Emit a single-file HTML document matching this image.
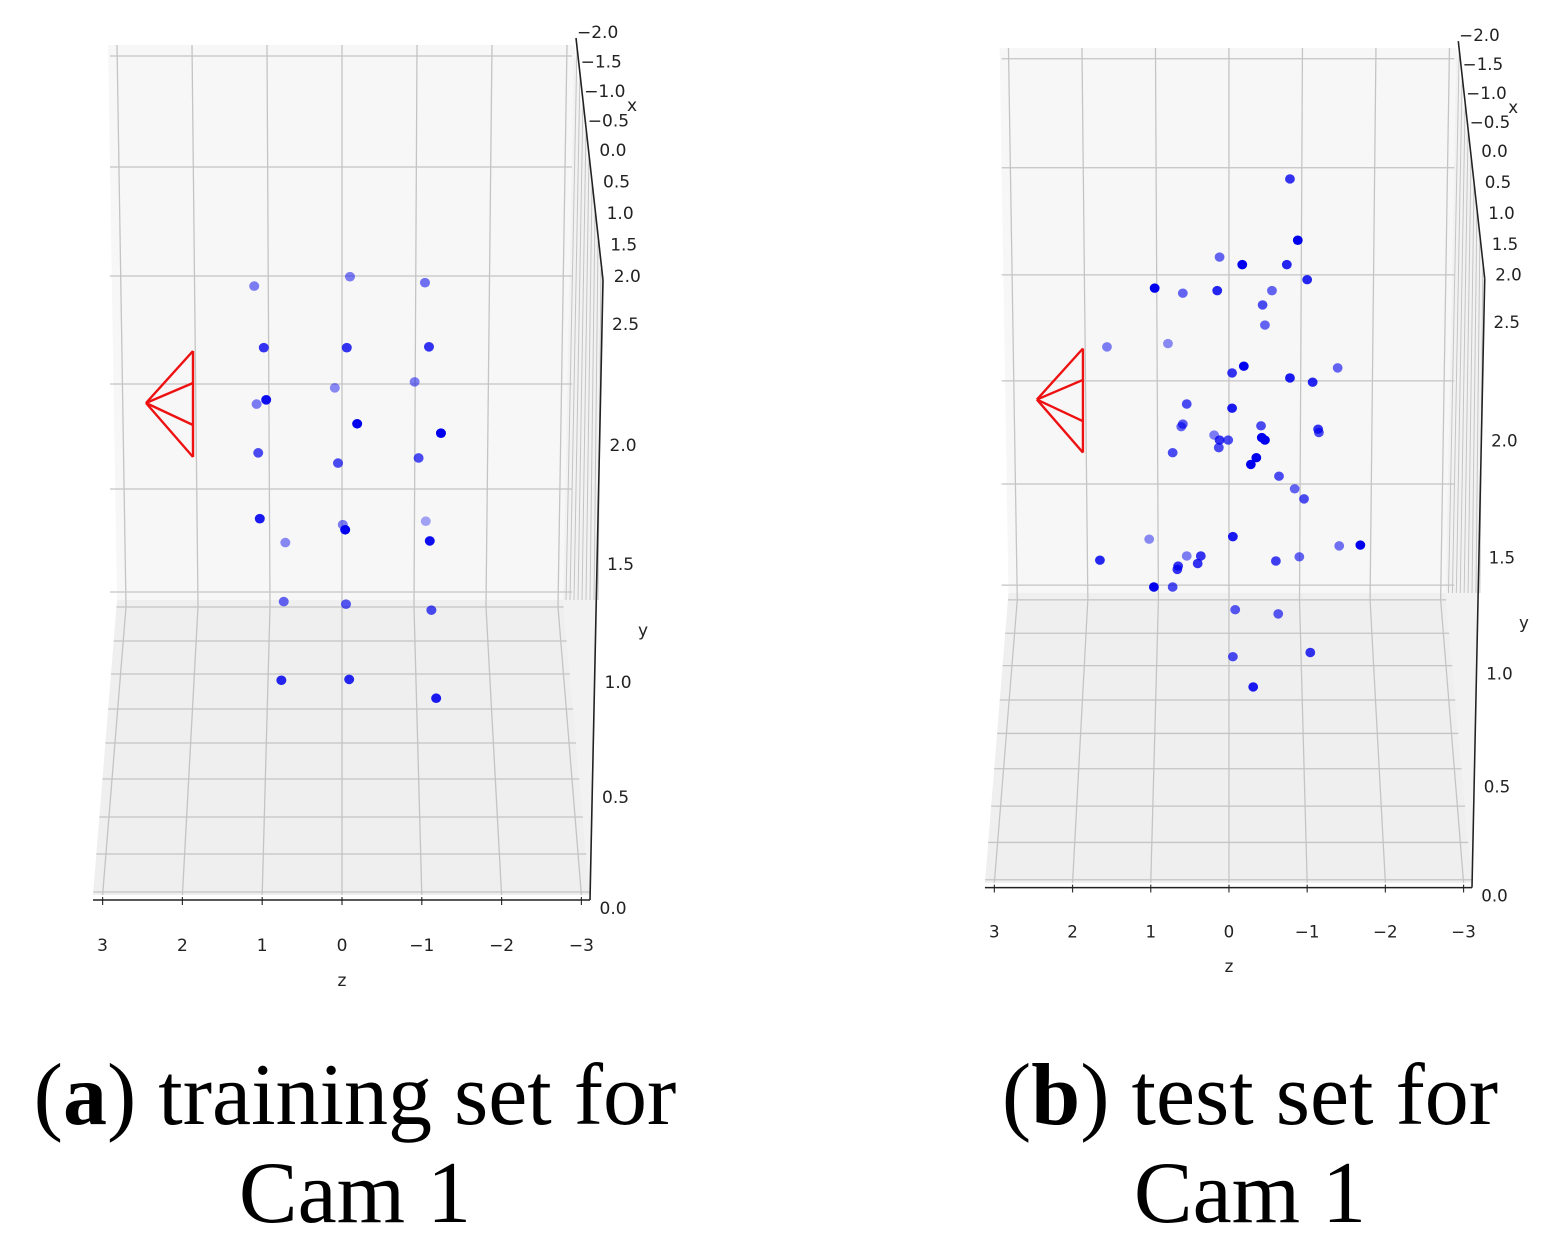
<!DOCTYPE html>
<html><head><meta charset="utf-8"><style>
html,body{margin:0;padding:0;background:#fff;}
svg{display:block;}
.tk{font-family:"DejaVu Sans","Liberation Sans",sans-serif;font-size:17px;fill:#222;}
.cap{font-family:"Liberation Serif",serif;font-size:88px;fill:#000;}
</style></head><body>
<svg id="fig" width="1544" height="1247" viewBox="0 0 1544 1247" xmlns="http://www.w3.org/2000/svg">
<g id="panelA"></g>
<g id="panelB" transform="matrix(0.98,0,0,0.982,893.8,3.8)"></g>
<text class="cap" x="355" y="1124" text-anchor="middle">(<tspan font-weight="bold">a</tspan>) training set for</text>
<text class="cap" x="355" y="1222" text-anchor="middle">Cam 1</text>
<text class="cap" x="1250" y="1124" text-anchor="middle">(<tspan font-weight="bold">b</tspan>) test set for</text>
<text class="cap" x="1250" y="1222" text-anchor="middle">Cam 1</text>
</svg>
<script>
const trainZ = [1.10,-0.10,-1.04,0.98,-0.06,-1.09,0.09,-0.91,1.07,0.95,-0.19,-1.24,1.05,0.05,-0.96,1.03,-0.01,-0.04,-1.05,-1.10,0.71,0.73,-0.05,-1.12,0.76,-0.09,-1.18];
const trainV = [7.18,7.29,7.22,6.46,6.46,6.47,5.99,6.06,5.80,5.85,5.57,5.46,5.23,5.11,5.17,4.46,4.39,4.33,4.43,4.20,4.18,3.49,3.46,3.39,2.57,2.58,2.36];
const trainA = [0.5,0.5,0.55,0.8,0.8,0.8,0.45,0.5,0.5,0.95,1,1,0.7,0.7,0.7,0.9,0.5,1,0.35,0.95,0.45,0.6,0.65,0.7,0.85,0.85,0.9];
const testZ = [-0.78,-0.88,0.12,-0.17,-0.74,-1.00,0.95,0.59,0.15,-0.55,-0.43,-0.46,1.56,0.78,-0.19,-0.04,-0.78,-1.07,-1.39,0.54,-0.04,0.59,0.61,-0.41,-1.14,-1.15,0.19,0.12,0.01,0.13,-0.42,-0.46,-0.35,-0.28,0.72,-0.64,-0.84,-0.96,-0.05,1.02,1.65,0.54,0.36,0.65,0.66,0.40,-0.60,-0.90,-1.41,-1.68,0.96,0.72,-0.08,-0.63,-1.04,-0.05,-0.31];
const testV = [8.44,7.71,7.51,7.42,7.42,7.24,7.14,7.08,7.11,7.11,6.94,6.70,6.44,6.48,6.21,6.13,6.07,6.02,6.19,5.76,5.71,5.52,5.49,5.50,5.46,5.42,5.39,5.33,5.33,5.24,5.36,5.33,5.12,5.04,5.18,4.90,4.75,4.63,4.18,4.15,3.90,3.95,3.95,3.83,3.79,3.86,3.89,3.94,4.07,4.08,3.58,3.58,3.31,3.26,2.80,2.75,2.39];
const testA = [0.8,1,0.6,1,0.85,0.85,1,0.6,0.85,0.6,0.7,0.6,0.5,0.45,1,0.8,0.9,0.85,0.6,0.7,0.9,0.65,0.6,0.7,0.8,0.7,0.5,0.8,0.7,0.7,1,1,1,1,0.7,0.7,0.6,0.7,0.9,0.45,0.85,0.5,0.8,0.8,0.8,0.8,0.75,0.6,0.55,1,1,0.7,0.65,0.65,0.8,0.7,0.9];
const zTicks = [3,2,1,0,-1,-2,-3];
const zTickLabels = ["3","2","1","0","\u22121","\u22122","\u22123"];
const xTickLabels = ["\u22122.0","\u22121.5","\u22121.0","\u22120.5","0.0","0.5","1.0","1.5","2.0"];
const yTickLabels = ["2.5","2.0","1.5","1.0","0.5","0.0"];

const NS="http://www.w3.org/2000/svg";
function zx(z){return 342-79.8*z;}
function vy(v){return 900-85.5*v;}
function mk(p,tag,attrs){const e=document.createElementNS(NS,tag);for(const k in attrs)e.setAttribute(k,attrs[k]);p.appendChild(e);return e;}

function drawPanel(g,Z,V,A,nm){
  const wall=mk(g,'polygon',{points:'108,45 574,45 563,600 117,600',fill:'#f7f7f7'});
  
  
  const floor=mk(g,'polygon',{points:'117,600 563,600 590,895 93,895',fill:'#efefef'});
  
  
  const side=mk(g,'polygon',{points:'574,45 603,280 590,900 563,600',fill:'#f2f2f2'});
  
  
  const gc='#c4c4c4';
  [56,167,276,384,489,592].forEach(y=>{const l=mk(g,'line',{x1:110,y1:y,x2:572,y2:y,stroke:gc,'stroke-width':1.3});
    });
  [607,641,674,709,743,779,817,854,892].forEach((y,i)=>{const t=(y-600)/295;
    const l=mk(g,'line',{x1:117-24*t,y1:y,x2:563+27*t,y2:y,stroke:gc,'stroke-width':1.3});
    });
  zTicks.forEach(z=>{const xb=zx(z);
    const l1=mk(g,'line',{x1:342-75*z,y1:45,x2:342-72*z,y2:607,stroke:gc,'stroke-width':1.3});
    
    const l2=mk(g,'line',{x1:342-72*z,y1:607,x2:xb,y2:895,stroke:gc,'stroke-width':1.3});
    
    const tk=mk(g,'line',{x1:xb,y1:897,x2:xb,y2:905,stroke:'#333','stroke-width':1.2});
    
  });
  for(let i=0;i<9;i++){const l=mk(g,'line',{x1:566+i*4,y1:600,x2:577+i*3,y2:45+i*28,stroke:gc,'stroke-width':1});
    }
  const ax=mk(g,'line',{x1:93,y1:900,x2:590,y2:900,stroke:'#222','stroke-width':1.6});
  
  const xa=mk(g,'polyline',{points:'576,38 603,280',fill:'none',stroke:'#222','stroke-width':1.6});
  
  const ya=mk(g,'line',{x1:603,y1:280,x2:590,y2:900,stroke:'#222','stroke-width':1.6});
  
  zTicks.forEach((z,i)=>{const t=mk(g,'text',{x:zx(z),y:951,'text-anchor':'middle',class:'tk'});t.textContent=zTickLabels[i];
    });
  const zt=mk(g,'text',{x:342,y:986,'text-anchor':'middle',class:'tk'});zt.textContent='z';
  
  xTickLabels.forEach((s,i)=>{const y=38+i*29.5+(i>4?(i-4)*2:0);const x=577+i*3.6+(i>3?8:0);
    const t=mk(g,'text',{x:x,y:y,class:'tk'});t.textContent=s;
    });
  const xt=mk(g,'text',{x:627,y:111,class:'tk'});xt.textContent='x';
  
  const yPos=[330,451,570,688,803,914];
  yTickLabels.forEach((s,i)=>{const t=mk(g,'text',{x:612-i*2.5,y:yPos[i],class:'tk'});t.textContent=s;
    });
  const yt=mk(g,'text',{x:638,y:636,class:'tk'});yt.textContent='y';
  
  const cam=mk(g,'g',{stroke:'#ee1111','stroke-width':2.4,fill:'none'});
  
  mk(cam,'line',{x1:193,y1:351,x2:193,y2:457});
  [351,383,425,457].forEach(y=>mk(cam,'line',{x1:146,y1:403,x2:193,y2:y}));
  Z.forEach((z,i)=>{const c=mk(g,'ellipse',{cx:zx(z),cy:vy(V[i]),rx:5,ry:4.8,fill:'#0000ee','fill-opacity':A[i]});
    });
}
drawPanel(document.getElementById('panelA'),trainZ,trainV,trainA,'training-point');
drawPanel(document.getElementById('panelB'),testZ,testV,testA,'test-point');
</script>
</body></html>
